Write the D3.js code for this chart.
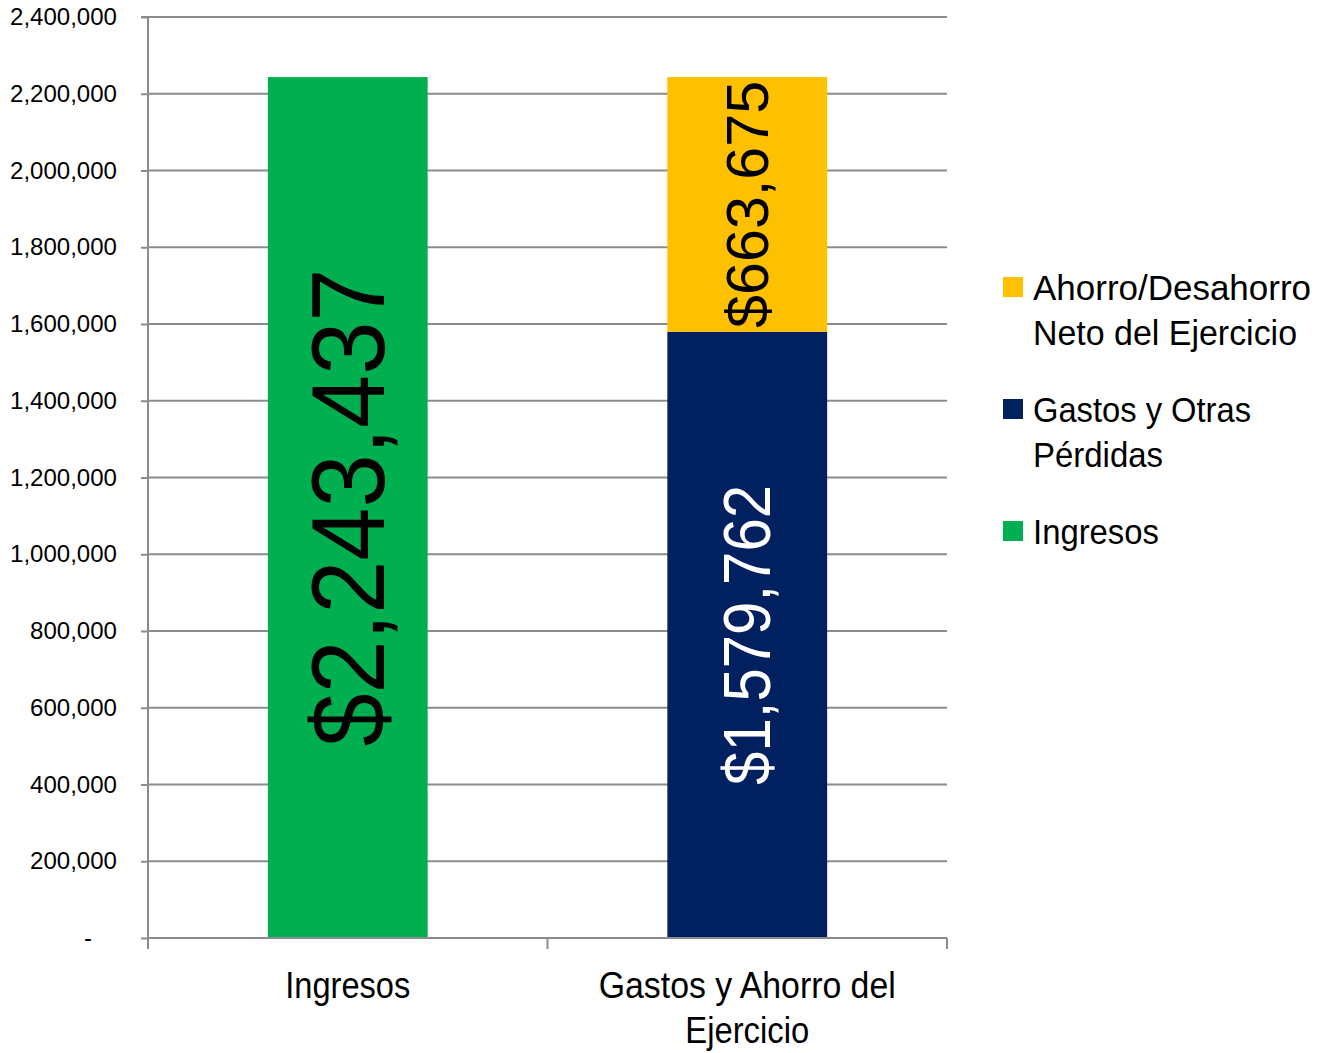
<!DOCTYPE html>
<html><head><meta charset="utf-8">
<script src="https://cdn.jsdelivr.net/npm/d3@7"></script>
<style>
body{margin:0;background:#fff;}
svg{display:block;}
</style></head>
<body>
<svg id="chart" width="1325" height="1053"></svg>
<script>
const categories = ["Ingresos", "Gastos y Ahorro del Ejercicio"];
const categoryLines = [["Ingresos"], ["Gastos y Ahorro del", "Ejercicio"]];
const seriesNames = ["Ingresos", "Gastos y Otras Pérdidas", "Ahorro/Desahorro Neto del Ejercicio"];
const ingresos = [2243437, 0];
const gastos = [0, 1579762];
const ahorro = [0, 663675];
const labels = ["$2,243,437", "$1,579,762", "$663,675"];
const yTicks = [0, 200000, 400000, 600000, 800000, 1000000, 1200000, 1400000, 1600000, 1800000, 2000000, 2200000, 2400000];
const legendLines = [["Ahorro/Desahorro", "Neto del Ejercicio"], ["Gastos y Otras", "Pérdidas"], ["Ingresos"]];
const colors = {"Ingresos":"#00B050", "Gastos y Otras Pérdidas":"#002060", "Ahorro/Desahorro Neto del Ejercicio":"#FFC000"};

// rendered widths of texts (layout only)
const textWidths = {
  "Ingresos": 125, "Gastos y Ahorro del": 297, "Ejercicio": 124,
  "Ahorro/Desahorro": 278, "Neto del Ejercicio": 264, "Gastos y Otras": 218, "Pérdidas": 130
};

const svg = d3.select("#chart");
const L = 148, R = 947, T = 17, B = 938;
const x = d3.scaleBand().domain(categories).range([L, R]).padding(0);
const y = d3.scaleLinear().domain([0, 2400000]).range([B, T]);
const gridColor = "#8c8c8c";
const font = "'Liberation Sans', Arial, sans-serif";

// gridlines
svg.append("g").selectAll("line").data(yTicks.filter(d => d > 0)).join("line")
  .attr("x1", L).attr("x2", R).attr("y1", d => y(d)).attr("y2", d => y(d))
  .attr("stroke", gridColor).attr("stroke-width", 2);

// stacked data
const rows = categories.map((c, i) => ({cat: c, "Ingresos": ingresos[i], "Gastos y Otras Pérdidas": gastos[i], "Ahorro/Desahorro Neto del Ejercicio": ahorro[i]}));
const stack = d3.stack().keys(seriesNames)(rows);
const bw = x.bandwidth() * 0.4;
const bx = c => x(c) + (x.bandwidth() - bw) / 2;

svg.append("g").selectAll("g").data(stack).join("g")
  .attr("fill", d => colors[d.key])
  .selectAll("rect").data(d => d.filter(p => p[1] - p[0] > 0)).join("rect")
  .attr("x", d => bx(d.data.cat)).attr("width", bw)
  .attr("y", d => y(d[1])).attr("height", d => y(d[0]) - y(d[1]));

// value labels
const labelSpecs = [
  {cat: categories[0], lo: 0, hi: ingresos[0], text: labels[0], size: 104, len: 478, fill: "#000"},
  {cat: categories[1], lo: 0, hi: gastos[1], text: labels[1], size: 66, len: 300, fill: "#fff"},
  {cat: categories[1], lo: gastos[1], hi: gastos[1] + ahorro[1], text: labels[2], size: 60, len: 247, fill: "#000"}
];
svg.append("g").selectAll("text").data(labelSpecs).join("text")
  .attr("transform", d => `translate(${x(d.cat) + x.bandwidth() / 2},${(y(d.lo) + y(d.hi)) / 2}) rotate(-90)`)
  .attr("text-anchor", "middle").attr("dominant-baseline", "central")
  .attr("font-family", font).attr("font-size", d => d.size)
  .attr("textLength", d => d.len).attr("lengthAdjust", "spacingAndGlyphs")
  .attr("fill", d => d.fill).text(d => d.text);

// y axis
const yAxis = d3.axisLeft(y).tickValues(yTicks).tickSize(7).tickPadding(24)
  .tickFormat(d => d === 0 ? "-" : d3.format(",")(d));
const ya = svg.append("g").attr("transform", `translate(${L},0)`).call(yAxis);
ya.select(".domain").attr("stroke", gridColor).attr("stroke-width", 2).attr("d", `M-7,${T}H0V${B + 10}`);
ya.selectAll(".tick line").attr("stroke", gridColor).attr("stroke-width", 2);
ya.selectAll(".tick text").attr("font-family", font).attr("font-size", 24).attr("fill", "#000")
  .attr("textLength", 107).attr("lengthAdjust", "spacingAndGlyphs");
ya.selectAll(".tick text").filter(d => d > 0 && d < 1000000).attr("textLength", 87);
ya.selectAll(".tick text").filter(d => d === 0).attr("x", -56).attr("textLength", null);

// x axis
const xa = svg.append("g").attr("transform", `translate(0,${B})`);
xa.append("line").attr("x1", L).attr("x2", R).attr("y1", 0).attr("y2", 0).attr("stroke", gridColor).attr("stroke-width", 2);
const xTickPos = [L, ...categories.slice(1).map(c => x(c)), R];
xa.selectAll("line.tk").data(xTickPos).join("line").attr("class", "tk")
  .attr("x1", d => d).attr("x2", d => d).attr("y1", 0).attr("y2", 11)
  .attr("stroke", gridColor).attr("stroke-width", 2);
const xl = xa.selectAll("text").data(categories).join("text")
  .attr("text-anchor", "middle").attr("font-family", font).attr("font-size", 36).attr("fill", "#000")
  .attr("transform", d => `translate(${x(d) + x.bandwidth() / 2},0)`);
xl.selectAll("tspan").data((d, i) => categoryLines[i]).join("tspan")
  .attr("x", 0).attr("y", (d, i) => 60 + i * 45)
  .attr("textLength", d => textWidths[d]).attr("lengthAdjust", "spacingAndGlyphs").text(d => d);

// legend
const legendKeys = [seriesNames[2], seriesNames[1], seriesNames[0]];
const legendY = [287, 409, 531];
const lg = svg.append("g").selectAll("g").data(legendKeys).join("g")
  .attr("transform", (d, i) => `translate(1003,${legendY[i]})`);
lg.append("rect").attr("x", 0).attr("y", -10).attr("width", 20).attr("height", 20).attr("fill", d => colors[d]);
const lt = lg.append("text").attr("font-family", font).attr("font-size", 35).attr("fill", "#000");
lt.selectAll("tspan").data((d, i) => legendLines[i]).join("tspan")
  .attr("x", 30).attr("y", (d, i) => 13 + i * 45)
  .attr("textLength", d => d === "Ingresos" ? 126 : textWidths[d]).attr("lengthAdjust", "spacingAndGlyphs").text(d => d);
</script>
</body></html>
